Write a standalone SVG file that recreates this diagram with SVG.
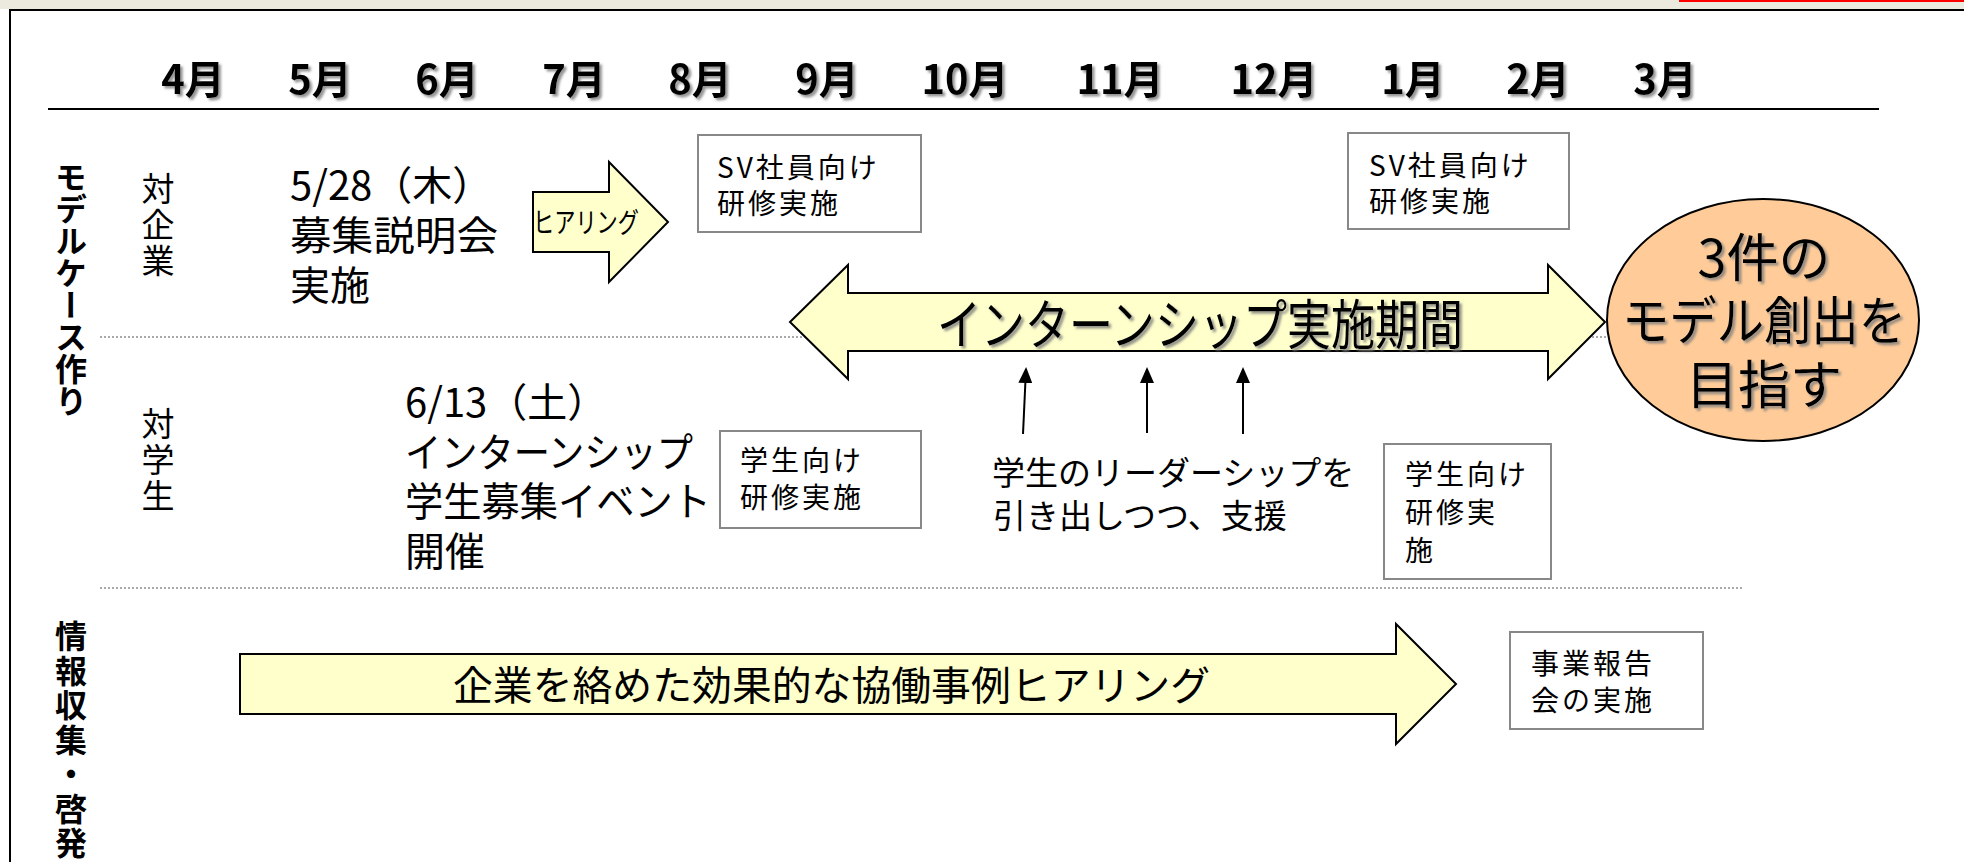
<svg xmlns="http://www.w3.org/2000/svg" width="1964" height="862" viewBox="0 0 1964 862">
<defs>
<style>
text{font-family:"Noto Sans CJK JP","Noto Sans",sans-serif;fill:#000}
.mon{font-size:40px;font-weight:bold;text-anchor:middle}
.vb{font-size:32px;font-weight:bold}
.vn{font-size:33px}
.big{font-size:40px}
.box{fill:#fff;stroke:#888;stroke-width:2}
.sm{font-size:28px;letter-spacing:3px}
.arw{fill:#FFFFCC;stroke:#000;stroke-width:2;stroke-linejoin:miter}
.dot{stroke:#555;stroke-width:1;stroke-dasharray:2 2;fill:none}
.up{stroke:#000;stroke-width:2;fill:none}
</style>
<filter id="sh" x="-10%" y="-20%" width="130%" height="150%">
<feDropShadow dx="2.5" dy="2.5" stdDeviation="1" flood-color="#7a7a7a" flood-opacity="0.8"/>
</filter>
<marker id="ah" markerWidth="16" markerHeight="14" refX="14" refY="7" orient="auto" markerUnits="userSpaceOnUse">
<path d="M0,0 L16,7 L0,14 z" fill="#000"/>
</marker>
</defs>
<rect x="0" y="0" width="1964" height="862" fill="#fff"/>
<rect x="0" y="0" width="1964" height="9" fill="#ECEADF"/>
<rect x="1679" y="0" width="285" height="2" fill="#FF0000"/>
<path d="M10,862 V10 H1964" fill="none" stroke="#000" stroke-width="2"/>

<g id="months" filter="url(#sh)">
<text class="mon" x="193" y="94">4月</text>
<text class="mon" x="320" y="94">5月</text>
<text class="mon" x="447" y="94">6月</text>
<text class="mon" x="574" y="94">7月</text>
<text class="mon" x="700" y="94">8月</text>
<text class="mon" x="827" y="94">9月</text>
<text class="mon" x="965" y="94">10月</text>
<text class="mon" x="1120" y="94">11月</text>
<text class="mon" x="1274" y="94">12月</text>
<text class="mon" x="1413" y="94">1月</text>
<text class="mon" x="1538" y="94">2月</text>
<text class="mon" x="1665" y="94">3月</text>
</g>
<line x1="48" y1="109" x2="1879" y2="109" stroke="#000" stroke-width="2"/>

<g id="dividers">
<line class="dot" x1="100" y1="337" x2="1608" y2="337"/>
<line class="dot" x1="100" y1="588" x2="1743" y2="588"/>
</g>

<g id="label-model">
<text class="vb" x="71" y="161" writing-mode="vertical-rl">モデルケース作り</text>
</g>
<g id="label-info">
<text class="vb" x="71" y="620" writing-mode="vertical-rl" letter-spacing="2.5">情報収集・啓発</text>
</g>
<g id="label-company">
<text class="vn" x="158" y="172" writing-mode="vertical-rl" letter-spacing="3">対企業</text>
</g>
<g id="label-student">
<text class="vn" x="158" y="407" writing-mode="vertical-rl" letter-spacing="3">対学生</text>
</g>

<g id="event-0528">
<text class="big"><tspan x="290" y="200">5/28（木）</tspan><tspan x="290" y="250" textLength="208" lengthAdjust="spacingAndGlyphs">募集説明会</tspan><tspan x="290" y="300">実施</tspan></text>
</g>

<g id="hearing-arrow">
<polygon class="arw" points="533,192 609,192 609,162 668,222 609,282 609,252 533,252"/>
<text x="533" y="233" font-size="28" textLength="106" lengthAdjust="spacingAndGlyphs">ヒアリング</text>
</g>

<g id="sv-training-1">
<rect class="box" x="698" y="135" width="223" height="97"/>
<text class="sm"><tspan x="717" y="178">SV社員向け</tspan><tspan x="717" y="214">研修実施</tspan></text>
</g>

<g id="sv-training-2">
<rect class="box" x="1348" y="133" width="221" height="96"/>
<text class="sm"><tspan x="1369" y="176">SV社員向け</tspan><tspan x="1369" y="212">研修実施</tspan></text>
</g>

<g id="internship-period">
<polygon class="arw" points="790,322 848,265 848,293 1548,293 1548,265 1605,322 1548,379 1548,351 848,351 848,379"/>
<text x="937" y="345" font-size="54" textLength="526" lengthAdjust="spacingAndGlyphs" filter="url(#sh)">インターンシップ実施期間</text>
</g>

<g id="goal">
<ellipse cx="1763" cy="320" rx="156" ry="121" fill="#FFCC99" stroke="#000" stroke-width="2"/>
<text font-size="52" text-anchor="middle" filter="url(#sh)"><tspan x="1764" y="277">3件の</tspan><tspan x="1764" y="340" textLength="284" lengthAdjust="spacingAndGlyphs">モデル創出を</tspan><tspan x="1764" y="404">目指す</tspan></text>
</g>

<g id="event-0613">
<text class="big"><tspan x="405" y="417">6/13（土）</tspan><tspan x="405" y="467" textLength="288" lengthAdjust="spacingAndGlyphs">インターンシップ</tspan><tspan x="405" y="516" textLength="306" lengthAdjust="spacingAndGlyphs">学生募集イベント</tspan><tspan x="405" y="566">開催</tspan></text>
</g>

<g id="student-training-1">
<rect class="box" x="720" y="431" width="201" height="97"/>
<text class="sm"><tspan x="740" y="471">学生向け</tspan><tspan x="740" y="508">研修実施</tspan></text>
</g>

<g id="student-training-2">
<rect class="box" x="1384" y="444" width="167" height="135"/>
<text class="sm"><tspan x="1405" y="485">学生向け</tspan><tspan x="1405" y="523">研修実</tspan><tspan x="1405" y="561">施</tspan></text>
</g>

<g id="support-text">
<text font-size="33"><tspan x="992" y="485">学生のリーダーシップを</tspan><tspan x="993" y="528">引き出しつつ、支援</tspan></text>
</g>

<g id="connectors">
<line class="up" x1="1023" y1="434" x2="1026" y2="369" marker-end="url(#ah)"/>
<line class="up" x1="1147" y1="433" x2="1147" y2="369" marker-end="url(#ah)"/>
<line class="up" x1="1243" y1="434" x2="1243" y2="369" marker-end="url(#ah)"/>
</g>

<g id="hearing-cases">
<polygon class="arw" points="240,654 1396,654 1396,624 1456,684 1396,744 1396,714 240,714" stroke="#222"/>
<text x="453" y="700" font-size="40" textLength="757" lengthAdjust="spacingAndGlyphs">企業を絡めた効果的な協働事例ヒアリング</text>
</g>

<g id="report">
<rect class="box" x="1510" y="632" width="193" height="97"/>
<text class="sm"><tspan x="1531" y="674">事業報告</tspan><tspan x="1531" y="711">会の実施</tspan></text>
</g>
</svg>
